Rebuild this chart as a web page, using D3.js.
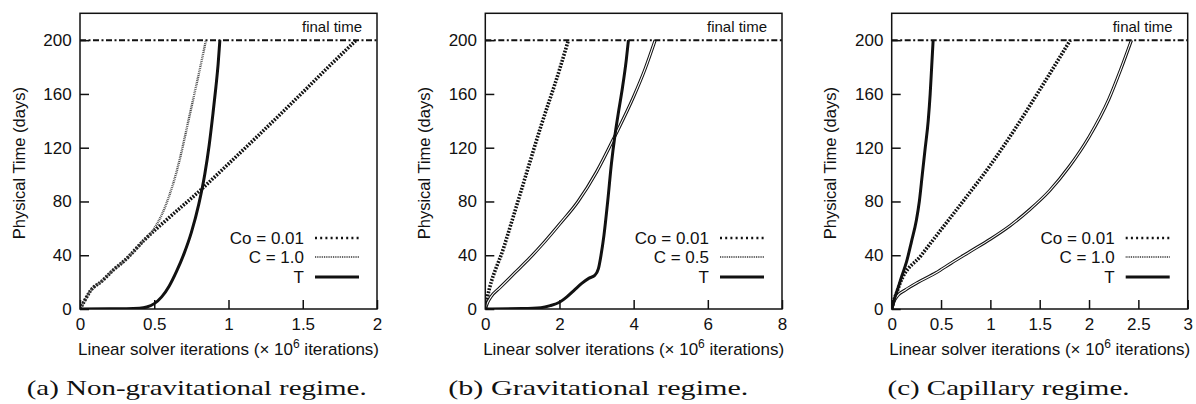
<!DOCTYPE html>
<html><head><meta charset="utf-8">
<script src="https://cdn.jsdelivr.net/npm/d3@7"></script>
<style>body{margin:0;background:#fff}svg{display:block}</style>
</head><body><svg id="chart" width="1196" height="404"></svg>
<script>
// ---------- data (x in 10^6 iterations, y in days) ----------
const aCo = [[0,0],[0.03,6],[0.067,13],[0.15,21],[0.224,29],[0.3,36],[0.43,51],[0.6,68],[0.807,88],[1.0,108],[1.2,129],[1.48,159],[1.7,183],[1.86,200]];
const aC  = [[0,0],[0.03,6],[0.067,13],[0.15,21],[0.224,29],[0.3,36],[0.43,51],[0.5,60],[0.55,70],[0.6,84],[0.65,102],[0.69,120],[0.73,140],[0.77,160],[0.81,180],[0.848,200]];
const aT  = [[0,0],[0.2,0.1],[0.4,0.6],[0.45,1.5],[0.5,4],[0.55,9],[0.6,17],[0.65,28],[0.7,41],[0.75,57],[0.8,78],[0.84,100],[0.87,122],[0.895,145],[0.915,165],[0.93,182],[0.942,200]];

const bCo = [[0,0],[0.02,4],[0.05,8],[0.5,46],[1.0,91],[1.5,136],[2.0,178],[2.24,200]];
const bC  = [[0,0],[0.05,4],[0.15,9],[0.4,16],[0.8,27],[1.2,38],[1.6,50],[2.0,63],[2.5,80],[3.0,102],[3.5,129],[4.0,158],[4.3,178],[4.58,200]];
const bT  = [[0,0],[1.0,0.3],[1.5,1],[1.75,2.5],[2.0,5],[2.2,9],[2.4,14],[2.6,19],[2.8,23],[2.95,25],[3.05,30],[3.12,40],[3.2,55],[3.3,80],[3.4,108],[3.5,130],[3.6,148],[3.7,165],[3.8,185],[3.86,200]];

const cCo = [[0,0],[0.02,6],[0.05,12],[0.084,19],[0.3,40],[0.5,59],[0.743,82],[1.0,107],[1.25,134],[1.5,163],[1.81,200]];
const cC  = [[0,0],[0.02,5],[0.06,10],[0.135,14],[0.27,20],[0.45,27],[0.6,34],[0.8,43],[1.0,52],[1.2,62],[1.4,74],[1.6,88],[1.8,106],[2.0,128],[2.2,156],[2.32,178],[2.43,200]];
const cT  = [[0,0],[0.03,8],[0.07,17],[0.1,24],[0.15,35],[0.2,50],[0.25,66],[0.28,80],[0.31,100],[0.34,120],[0.37,140],[0.39,160],[0.405,180],[0.42,200]];

const yTicks  = [0,40,80,120,160,200];
const xTicksA = [0,0.5,1,1.5,2];
const xTicksB = [0,2,4,6,8];
const xTicksC = [0,0.5,1,1.5,2,2.5,3];
const xMax = [2, 8, 3];
const yMax = 220;
const finalTime = 200;
const finalLabel = "final time";
const legendA = ["Co = 0.01", "C = 1.0", "T"];
const legendB = ["Co = 0.01", "C = 0.5", "T"];
const legendC = ["Co = 0.01", "C = 1.0", "T"];
const captions = ["(a) Non-gravitational regime.", "(b) Gravitational regime.", "(c) Capillary regime."];
const yTitle = "Physical Time (days)";

// ---------- layout ----------
const panels = [
  {left: 80,    right: 377,    xTicks: xTicksA, series: [aCo, aC, aT], legend: legendA, capX: 196.7, capW: 340, cStyle: "dot"},
  {left: 485.3, right: 782,    xTicks: xTicksB, series: [bCo, bC, bT], legend: legendB, capX: 598.3, capW: 300, cStyle: "double"},
  {left: 891.7, right: 1187.7, xTicks: xTicksC, series: [cCo, cC, cT], legend: legendC, capX: 1008.5, capW: 242, cStyle: "double"}
];
const plotTop = 13.3, plotBottom = 309;
const sans = "'Liberation Sans', Arial, Helvetica, sans-serif";
const serif = "'Liberation Serif', 'DejaVu Serif', serif";
const ink = "#111";

const svg = d3.select("#chart");

panels.forEach((p, i) => {
  const x = d3.scaleLinear().domain([0, xMax[i]]).range([p.left, p.right]);
  const y = d3.scaleLinear().domain([0, yMax]).range([plotBottom, plotTop]);
  const g = svg.append("g");

  const clipId = "clip" + i;
  svg.append("clipPath").attr("id", clipId).append("rect")
    .attr("x", p.left).attr("y", plotTop).attr("width", p.right - p.left).attr("height", plotBottom - plotTop);

  const line = d3.line().x(d => x(d[0])).y(d => y(d[1])).curve(d3.curveMonotoneX);
  const plot = g.append("g").attr("clip-path", `url(#${clipId})`);

  // Co series: thick dotted
  plot.append("path").datum(p.series[0]).attr("d", line)
    .attr("fill", "none").attr("stroke", ink).attr("stroke-width", 3.6).attr("stroke-dasharray", "1.8,1.4");
  // C series
  if (p.cStyle === "double") {
    plot.append("path").datum(p.series[1]).attr("d", line)
      .attr("fill", "none").attr("stroke", ink).attr("stroke-width", 3.2);
    plot.append("path").datum(p.series[1]).attr("d", line)
      .attr("fill", "none").attr("stroke", "#fff").attr("stroke-width", 1.1);
  } else {
    plot.append("path").datum(p.series[1]).attr("d", line)
      .attr("fill", "none").attr("stroke", "#444").attr("stroke-width", 2.4).attr("stroke-dasharray", "0.9,0.9");
  }
  // T series: thick solid
  plot.append("path").datum(p.series[2]).attr("d", line)
    .attr("fill", "none").attr("stroke", ink).attr("stroke-width", 3);

  // final time line
  g.append("line").attr("x1", p.left).attr("x2", p.right)
    .attr("y1", y(finalTime)).attr("y2", y(finalTime))
    .attr("stroke", ink).attr("stroke-width", 2).attr("stroke-dasharray", "6,2.5,2,2.5");
  g.append("text").attr("x", p.right - 15).attr("y", 31.7)
    .attr("text-anchor", "end").attr("font-family", sans).attr("font-size", 15).attr("fill", ink)
    .text(finalLabel);

  // axes
  const xAxis = d3.axisBottom(x).tickValues(p.xTicks).tickFormat(d3.format("~g"))
    .tickSizeInner(-9).tickSizeOuter(0).tickPadding(9);
  const yAxis = d3.axisLeft(y).tickValues(yTicks).tickFormat(d3.format("d"))
    .tickSizeInner(-9).tickSizeOuter(0).tickPadding(8.3);
  const gx = g.append("g").attr("transform", `translate(0,${plotBottom})`).call(xAxis);
  const gy = g.append("g").attr("transform", `translate(${p.left},0)`).call(yAxis);
  [gx, gy].forEach(a => {
    a.select(".domain").remove();
    a.selectAll("line").attr("stroke", ink).attr("stroke-width", 1.5);
    a.selectAll("text").attr("font-family", sans).attr("font-size", 17).attr("fill", ink);
  });

  // frame
  g.append("rect").attr("x", p.left).attr("y", plotTop)
    .attr("width", p.right - p.left).attr("height", plotBottom - plotTop)
    .attr("fill", "none").attr("stroke", ink).attr("stroke-width", 1.5);

  // axis titles
  g.append("text")
    .attr("transform", `translate(${p.left - 55.5},${(plotTop + plotBottom) / 2 + 2}) rotate(-90)`)
    .attr("text-anchor", "middle").attr("font-family", sans).attr("font-size", 16.5).attr("fill", ink)
    .text(yTitle);
  const xt = g.append("text").attr("x", (p.left + p.right) / 2).attr("y", 355)
    .attr("text-anchor", "middle").attr("font-family", sans).attr("font-size", 17).attr("fill", ink);
  xt.append("tspan").text("Linear solver iterations (× 10");
  xt.append("tspan").attr("dy", -7.5).attr("font-size", 12).text("6");
  xt.append("tspan").attr("dy", 7.5).text(" iterations)");

  // legend
  const rowsY = [plotBottom - 71, plotBottom - 52, plotBottom - 32];
  p.legend.forEach((lab, k) => {
    g.append("text").attr("x", p.right - 73).attr("y", rowsY[k]).attr("dy", "0.36em")
      .attr("text-anchor", "end").attr("font-family", sans).attr("font-size", 17).attr("fill", ink)
      .text(lab);
    const ln = g.append("line").attr("x1", p.right - 62).attr("x2", p.right - 18)
      .attr("y1", rowsY[k]).attr("y2", rowsY[k]).attr("stroke", ink);
    if (k === 0) ln.attr("stroke-width", 2.6).attr("stroke-dasharray", "2,3.2");
    else if (k === 1) ln.attr("stroke", "#555").attr("stroke-width", 2.2).attr("stroke-dasharray", "0.9,0.9");
    else ln.attr("stroke-width", 3);
  });

  // caption
  g.append("text").attr("x", p.capX).attr("y", 394.5).attr("text-anchor", "middle")
    .attr("font-family", serif).attr("font-size", 21).attr("fill", ink)
    .attr("textLength", p.capW).attr("lengthAdjust", "spacingAndGlyphs")
    .text(captions[i]);
});
</script>
</body></html>
